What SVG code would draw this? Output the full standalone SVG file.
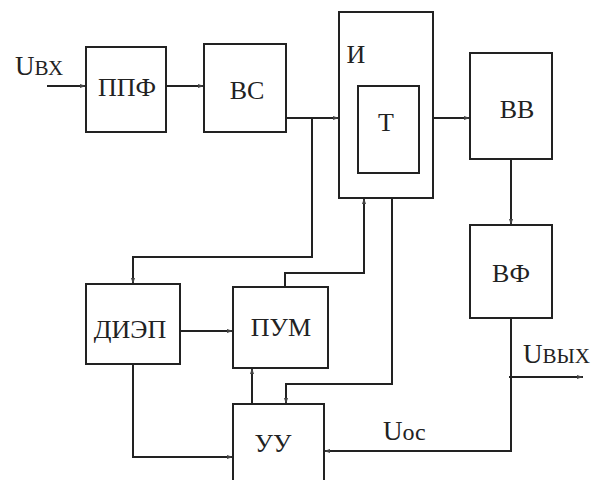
<svg xmlns="http://www.w3.org/2000/svg" width="601" height="480" viewBox="0 0 601 480">
<style>
.box{fill:#fff;stroke:#222;stroke-width:2}
.ln{fill:none;stroke:#222;stroke-width:2}
.t{font-family:"Times New Roman","Liberation Serif",Tinos,"DejaVu Serif",serif;font-size:26px;fill:#222;text-anchor:middle}
.lbl{font-family:"Times New Roman","Liberation Serif",Tinos,"DejaVu Serif",serif;fill:#222}
</style>
<defs>
<marker id="a" markerWidth="7" markerHeight="5" refX="6" refY="2.5" orient="auto" markerUnits="userSpaceOnUse">
<path d="M0,0.5 L6,2.5 L0,4.5 Z" fill="#444"/>
</marker>
</defs>
<rect width="601" height="480" fill="#fff"/>
<g id="connectors" class="ln" marker-end="url(#a)">
<path d="M47,86 H86"/>
<path d="M166,86 H204"/>
<path d="M286,118 H339"/>
<path d="M312,118 V257 H133 V284"/>
<path d="M285,287 V273 H364 V198"/>
<path d="M392,198 V384 H286 V404"/>
<path d="M252,404 V368"/>
<path d="M180,331 H233"/>
<path d="M133,364 V457 H233"/>
<path d="M433,118 H470"/>
<path d="M511,159 V225"/>
<path d="M511,318 V451 H324"/>
<path d="M509,377 H583"/>
</g>
<g id="ppf"><rect class="box" x="86" y="47" width="80" height="85"/><text class="t" x="127" y="96">ППФ</text></g>
<g id="vs"><rect class="box" x="204" y="44" width="82" height="88"/><text class="t" x="247" y="99">ВС</text></g>
<g id="i"><rect class="box" x="339" y="12" width="94" height="186"/><text class="t" x="356" y="63">И</text></g>
<g id="t"><rect class="box" x="358" y="86" width="61" height="87"/><text class="t" x="386" y="131">Т</text></g>
<g id="vv"><rect class="box" x="470" y="53" width="82" height="106"/><text class="t" x="517" y="118">ВВ</text></g>
<g id="vf"><rect class="box" x="470" y="225" width="82" height="93"/><text class="t" x="511" y="282">ВФ</text></g>
<g id="diep"><rect class="box" x="86" y="284" width="94" height="80"/><text class="t" x="130" y="338">ДИЭП</text></g>
<g id="pum"><rect class="box" x="233" y="287" width="95" height="81"/><text class="t" x="281" y="336">ПУМ</text></g>
<g id="uu"><rect class="box" x="233" y="404" width="91" height="90"/><text class="t" x="273" y="452">УУ</text></g>
<g id="labels">
<text class="lbl" x="15" y="75"><tspan font-size="27">U</tspan><tspan font-size="21">ВХ</tspan></text>
<text class="lbl" x="523" y="363"><tspan font-size="27">U</tspan><tspan font-size="21">ВЫХ</tspan></text>
<text class="lbl" x="383" y="440"><tspan font-size="27">U</tspan><tspan font-size="24">ос</tspan></text>
</g>
</svg>
